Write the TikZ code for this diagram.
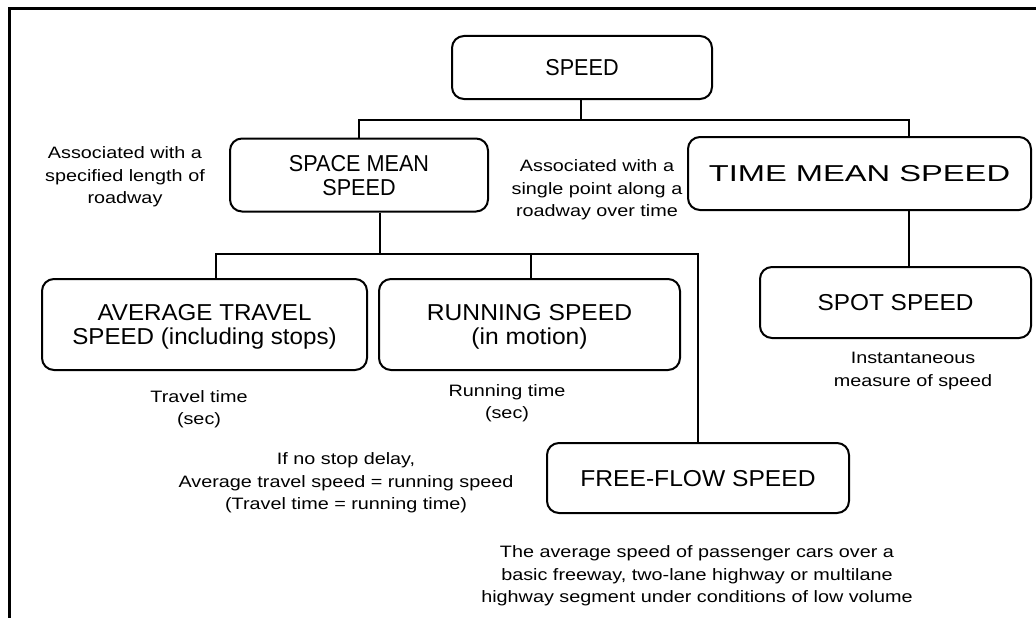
\documentclass[tikz,border=0pt]{standalone}
\usepackage{graphicx}
\usepackage{fontspec}
\setmainfont{Liberation Sans}[FakeStretch=1.2]
\newfontfamily\boxfont{Liberation Sans}
% box label: centred lines, stretched horizontally by #1, lowered so the capitals sit mid-box
\newcommand\boxlabel[2]{\raisebox{-3.4pt}[\height][\depth]{\scalebox{#1}[1]{\begin{tabular}{@{}c@{}}#2\end{tabular}}}}
\begin{document}
\begin{tikzpicture}[x=1pt,y=-1pt,
  box/.style={draw, line width=2pt, rounded corners=12pt, inner sep=0pt,
    align=center, font=\boxfont\fontsize{23}{24}\selectfont},
  note/.style={align=center, inner sep=0pt, font=\fontsize{16.5}{22.5}\selectfont},
  link/.style={line width=2pt}]
\useasboundingbox (0,0) rectangle (1036,618);
% frame
\draw[line width=3pt] (1036,9) -- (9,9) -- (9,618);

% boxes
\node[box, minimum width=260pt, minimum height=63pt] (speed) at (582,67.5) {\boxlabel{0.94}{SPEED}};
\node[box, minimum width=258pt, minimum height=73pt] (space) at (359,175) {\boxlabel{0.94}{SPACE MEAN\\SPEED}};
\node[box, minimum width=343pt, minimum height=73pt] (time) at (859.5,173.5) {\boxlabel{1.42}{TIME MEAN SPEED}};
\node[box, minimum width=271pt, minimum height=71pt] (spot) at (895.5,302.5) {\boxlabel{1.06}{SPOT SPEED}};
\node[box, minimum width=325pt, minimum height=91pt] (avg) at (204.5,324.5) {\boxlabel{1.05}{AVERAGE TRAVEL\\SPEED (including stops)}};
\node[box, minimum width=301pt, minimum height=91pt] (run) at (529.5,324.5) {\boxlabel{1.07}{RUNNING SPEED\\(in motion)}};
\node[box, minimum width=302pt, minimum height=70pt] (free) at (698,478) {\boxlabel{1.07}{FREE-FLOW SPEED}};

% notes
\node[note] (n1) at (125,177) {Associated with a\\specified length of\\roadway};
\node[note] (n2) at (597,190) {Associated with a\\single point along a\\roadway over time};
\node[note] (n3) at (199,409) {Travel time\\(sec)};
\node[note] (n4) at (507,403) {Running time\\(sec)};
\node[note] (n5) at (913,371) {Instantaneous\\measure of speed};
\node[note] (n6) at (346,483) {If no stop delay,\\Average travel speed = running speed\\(Travel time = running time)};
\node[note] (n7) at (697,576) {The average speed of passenger cars over a\\basic freeway, two-lane highway or multilane\\highway segment under conditions of low volume};

% branch points
\coordinate (b1) at (581,120);
\coordinate (t1) at (909,0);
\coordinate (b2) at (380,254);
\coordinate (a1) at (216,0);
\coordinate (r1) at (531,0);

% connectors
\draw[link] (speed.south -| b1) -- (b1);
\draw[link] (space.north) |- (b1) -| (time.north -| t1);
\draw[link] (time.south -| t1) -- (spot.north -| t1);
\draw[link] (space.south -| b2) -- (b2);
\draw[link] (avg.north -| a1) |- (b2) -| (free.north);
\draw[link] (run.north -| r1) -- (b2 -| r1);
\end{tikzpicture}
\end{document}
